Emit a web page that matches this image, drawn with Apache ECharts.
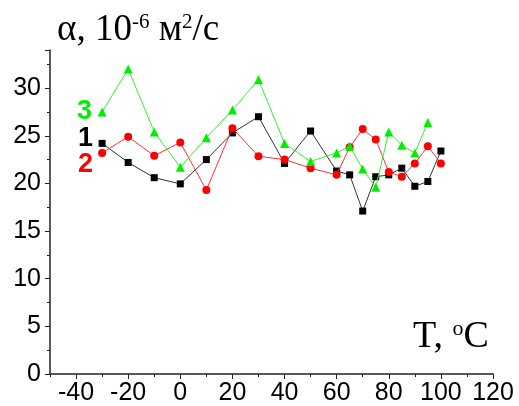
<!DOCTYPE html>
<html>
<head>
<meta charset="utf-8">
<script src="https://cdn.jsdelivr.net/npm/echarts@6/dist/echarts.min.js"></script>
<style>
  html, body { margin: 0; padding: 0; background: #fff; }
  #chart { width: 519px; height: 406px; }
</style>
</head>
<body>
<div id="chart"></div>
<script>
// температура, °C
var temps1 = [-30, -20, -10, 0, 10, 20, 30, 40, 50, 60, 65, 70, 75, 80, 85, 90, 95, 100];
var alpha1 = [24.2, 22.2, 20.6, 19.95, 22.5, 25.3, 27.0, 22.1, 25.5, 21.3, 20.9, 17.1, 20.7, 20.9, 21.6, 19.7, 20.2, 23.4];
var temps2 = [-30, -20, -10, 0, 10, 20, 30, 40, 50, 60, 65, 70, 75, 80, 85, 90, 95, 100];
var alpha2 = [23.2, 24.9, 22.9, 24.3, 19.3, 25.8, 22.85, 22.5, 21.6, 20.9, 23.8, 25.7, 24.6, 21.2, 20.7, 22.1, 23.9, 22.1];
var temps3 = [-30, -20, -10, 0, 10, 20, 30, 40, 50, 60, 65, 70, 75, 80, 85, 90, 95];
var alpha3 = [27.5, 32.0, 25.4, 21.7, 24.8, 27.7, 30.9, 24.2, 22.3, 23.2, 23.9, 21.5, 19.6, 25.4, 24.0, 23.2, 26.4];
var xMajorTicks = [-40, -20, 0, 20, 40, 60, 80, 100, 120];
var curveNames = ['1', '2', '3'];

function pairs(xs, ys) {
    var out = [];
    for (var i = 0; i < xs.length; i++) {
        out.push([xs[i], ys[i]]);
    }
    return out;
}

var chart = echarts.init(document.getElementById('chart'));

var tickFont = {
    fontFamily: 'Liberation Sans, Arial, sans-serif',
    fontSize: 25,
    color: '#000'
};
var serif = 'Liberation Serif, Times New Roman, serif';

var option = {
    animation: false,
    grid: { left: 50, right: 26, top: 50, bottom: 32, containLabel: false },
    xAxis: [{
        type: 'value',
        min: -50,
        max: 120,
        interval: 10,
        splitLine: { show: false },
        axisLine: { onZero: false, lineStyle: { color: '#222', width: 1.5 } },
        axisTick: { length: 5, customValues: xMajorTicks, lineStyle: { color: '#222' } },
        axisLabel: Object.assign({ margin: 7, customValues: xMajorTicks }, tickFont)
    }, {
        type: 'value',
        position: 'bottom',
        min: -50,
        max: 120,
        interval: 10,
        splitLine: { show: false },
        axisLine: { show: false, onZero: false },
        axisTick: { length: 3, lineStyle: { color: '#222' } },
        axisLabel: { show: false }
    }],
    yAxis: {
        type: 'value',
        min: 0,
        max: 34,
        interval: 5,
        splitLine: { show: false },
        axisLine: { show: true, onZero: false, lineStyle: { color: '#222', width: 1.5 } },
        axisTick: { show: true, length: 5, lineStyle: { color: '#222' } },
        minorTick: { show: true, splitNumber: 2, length: 3, lineStyle: { color: '#222' } },
        axisLabel: Object.assign({
            margin: 9,
            showMaxLabel: false,
            formatter: function (v) { return v % 5 === 0 ? String(v) : ''; }
        }, tickFont)
    },
    series: [{
        name: curveNames[0],
        type: 'line',
        data: pairs(temps1, alpha1),
        symbol: 'rect',
        symbolSize: 7,
        z: 3,
        lineStyle: { color: '#333', width: 1 },
        itemStyle: { color: '#000' }
    }, {
        name: curveNames[1],
        type: 'line',
        data: pairs(temps2, alpha2),
        symbol: 'circle',
        symbolSize: 8,
        z: 4,
        lineStyle: { color: '#ff3030', width: 1 },
        itemStyle: { color: '#ff0000' }
    }, {
        name: curveNames[2],
        type: 'line',
        data: pairs(temps3, alpha3),
        symbol: 'triangle',
        symbolSize: 9,
        z: 5,
        lineStyle: { color: '#33ee33', width: 1 },
        itemStyle: { color: '#00ee00' }
    }],
    graphic: [{
        type: 'text',
        left: 57,
        top: 12,
        style: {
            text: '{a|α, 10}{s|-6}{a| м}{s|2}{a|/с}',
            rich: {
                a: { fontFamily: serif, fontSize: 37, fill: '#000', verticalAlign: 'bottom' },
                s: { fontFamily: serif, fontSize: 21, fill: '#000', verticalAlign: 'top' }
            }
        }
    }, {
        type: 'text',
        left: 413,
        top: 318,
        style: {
            text: '{a|T, }{s|o}{a|C}',
            rich: {
                a: { fontFamily: serif, fontSize: 38, fill: '#000', verticalAlign: 'bottom' },
                s: { fontFamily: serif, fontSize: 22, fill: '#000', verticalAlign: 'top' }
            }
        }
    }, {
        type: 'text', left: 77, top: 98,
        style: { text: curveNames[2], font: 'bold 27px Liberation Sans, Arial, sans-serif', fill: '#00ee00' }
    }, {
        type: 'text', left: 78, top: 125,
        style: { text: curveNames[0], font: 'bold 27px Liberation Sans, Arial, sans-serif', fill: '#000' }
    }, {
        type: 'text', left: 78, top: 151,
        style: { text: curveNames[1], font: 'bold 27px Liberation Sans, Arial, sans-serif', fill: '#ff0000' }
    }]
};

chart.setOption(option);
</script>
</body>
</html>
